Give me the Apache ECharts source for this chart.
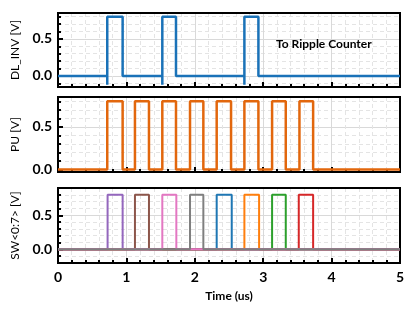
<!DOCTYPE html>
<html>
<head>
<meta charset="utf-8">
<script src="https://cdn.jsdelivr.net/npm/echarts@6/dist/echarts.min.js"></script>
<style>
html,body{margin:0;padding:0;background:#fff;}
#chart{width:416px;height:314px;}
</style>
</head>
<body>
<div id="chart"></div>
<script>
// ---- data ----
const timeTicks = [0, 1, 2, 3, 4, 5];
const panelNames = ['DL_INV [V]', 'PU [V]', 'SW<0:7> [V]'];
const majorVoltTicks = [0, 0.5];
const minorVoltTicks = [-0.1, 0.1, 0.2, 0.3, 0.4, 0.6, 0.7, 0.8];
const panelMin = [-0.15, -0.03, -0.2];
const panelMax = [0.85, 0.85, 0.9];

const dlInvRise = [0.72, 1.525, 2.725];
const dlInvFall = [0.945, 1.725, 2.93];
const dlInvHigh = 0.8;
const dlInvDip = -0.12;

const puRise = [0.72, 1.125, 1.525, 1.93, 2.32, 2.725, 3.13, 3.53];
const puFall = [0.945, 1.33, 1.725, 2.125, 2.53, 2.93, 3.33, 3.73];
const puHigh = 0.8;

const swNames = ['SW<4>', 'SW<5>', 'SW<6>', 'SW<7>', 'SW<0>', 'SW<1>', 'SW<2>', 'SW<3>'];
const swRise = [2.32, 2.725, 3.13, 3.52, 0.725, 1.125, 1.525, 1.93];
const swFall = [2.54, 2.94, 3.33, 3.73, 0.945, 1.33, 1.73, 2.125];
const swHigh = 0.8;
const swColors = ['#1f77b4', '#ff7f0e', '#2ca02c', '#d62728', '#9467bd', '#8c564b', '#e377c2', '#7f7f7f'];

const annotation = 'To Ripple Counter';

// ---- build step traces from edge times ----
function trace(rises, falls, high, dip) {
  const end = timeTicks[timeTicks.length - 1];
  const pts = [[timeTicks[0], 0]];
  for (let i = 0; i < rises.length; i++) {
    pts.push([rises[i], 0]);
    if (dip !== undefined) pts.push([rises[i], dip]);
    pts.push([rises[i], high]);
    pts.push([falls[i], high]);
    pts.push([falls[i], 0]);
  }
  pts.push([end, 0]);
  return pts;
}

const FONT = 'Lato, "Open Sans", sans-serif';
const gridTops = [13, 97, 188];
const gridH = [74, 75, 75];

const grids = [], xAxes = [], yAxes = [], series = [];
for (let g = 0; g < 3; g++) {
  grids.push({left: 58, width: 342, top: gridTops[g], height: gridH[g],
    show: true, borderColor: '#000', borderWidth: 2, backgroundColor: 'transparent', z: 1});
  xAxes.push({
    type: 'value', gridIndex: g, min: timeTicks[0], max: timeTicks[timeTicks.length - 1], interval: 1,
    position: 'bottom',
    name: g === 2 ? 'Time (us)' : '', nameLocation: 'middle', nameGap: 27,
    nameTextStyle: {fontFamily: FONT, fontWeight: 'bold', fontSize: 12, color: '#000'},
    axisLine: {show: true, onZero: false, lineStyle: {color: '#000', width: 2}},
    axisTick: {show: true, inside: true, length: 5, lineStyle: {color: '#000', width: 2}},
    minorTick: {show: true, splitNumber: 5, length: 3, lineStyle: {color: '#000', width: 2}},
    splitLine: {show: true, lineStyle: {color: '#d9d9d9', width: 1}},
    minorSplitLine: {show: true, lineStyle: {color: '#e4e4e4', width: 1, type: [4, 3]}},
    axisLabel: {show: g === 2, margin: 7, fontFamily: FONT, fontWeight: 'bold', fontSize: 14, color: '#000'}
  });
  yAxes.push({
    type: 'value', gridIndex: g, min: panelMin[g], max: panelMax[g], position: 'left',
    name: panelNames[g], nameLocation: 'middle', nameGap: 35, nameRotate: 90,
    nameTextStyle: {fontFamily: FONT, fontSize: 12, color: '#000'},
    axisLine: {show: true, onZero: false, lineStyle: {color: '#000', width: 2}},
    axisTick: {show: true, inside: true, length: 5, customValues: majorVoltTicks, lineStyle: {color: '#000', width: 2}},
    splitLine: {show: true, lineStyle: {color: '#d9d9d9', width: 1}},
    axisLabel: {show: true, margin: 6, customValues: majorVoltTicks, fontFamily: FONT, fontWeight: 'bold', fontSize: 14, color: '#000',
      formatter: v => Number(v).toFixed(1)}
  });
  yAxes.push({
    type: 'value', gridIndex: g, min: panelMin[g], max: panelMax[g], position: 'left', offset: 0,
    axisLine: {show: false},
    axisTick: {show: true, inside: true, length: 3, customValues: minorVoltTicks, lineStyle: {color: '#000', width: 2}},
    splitLine: {show: true, lineStyle: {color: '#e4e4e4', width: 1, type: [4, 3]}},
    axisLabel: {show: false, customValues: minorVoltTicks}
  });
}

const lineBase = {type: 'line', showSymbol: false, symbol: 'none', animation: false, z: 3};
series.push(Object.assign({}, lineBase, {name: 'DL_INV', xAxisIndex: 0, yAxisIndex: 0,
  data: trace(dlInvRise, dlInvFall, dlInvHigh, dlInvDip), lineStyle: {color: '#1a72b8', width: 2.5}}));
series.push(Object.assign({}, lineBase, {name: 'PU', xAxisIndex: 1, yAxisIndex: 2,
  data: trace(puRise, puFall, puHigh), lineStyle: {color: '#e2670d', width: 2.5}}));
for (let i = 0; i < swNames.length; i++) {
  series.push(Object.assign({}, lineBase, {name: swNames[i], xAxisIndex: 2, yAxisIndex: 4,
    data: trace([swRise[i]], [swFall[i]], swHigh), lineStyle: {color: swColors[i], width: 2}}));
}

const chart = echarts.init(document.getElementById('chart'), null, {renderer: 'canvas'});
chart.setOption({
  backgroundColor: '#fff',
  animation: false,
  grid: grids, xAxis: xAxes, yAxis: yAxes, series: series,
  graphic: [{type: 'text', left: 276, top: 38, z: 10,
    style: {text: annotation, fontFamily: FONT, fontWeight: 'bold', fontSize: 12, fill: '#000'}}]
});
</script>
</body>
</html>
